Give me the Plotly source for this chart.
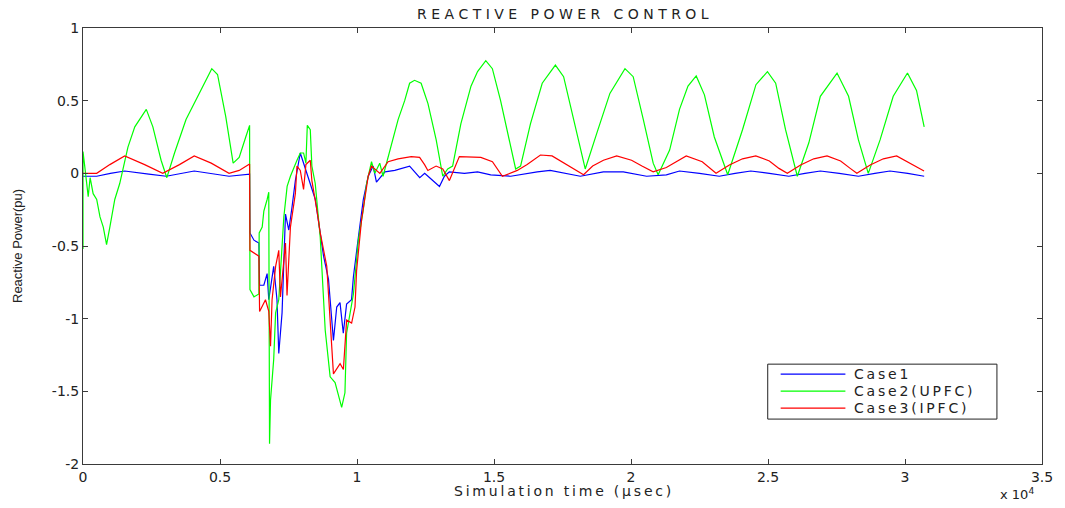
import plotly.graph_objects as go

# ---- data (time in microseconds, reactive power in pu) ----
case1_t = [0, 500, 1000, 1520, 2400, 3040, 4060, 5330, 6080, 6093, 6240, 6420, 6445, 6600, 6720, 6780,
           6960, 7080, 7145, 7265, 7390, 7510, 7630, 7750, 7930, 8050, 8230, 8350, 8480, 8780, 8960,
           9020, 9140, 9260, 9380, 9500, 9620, 9800, 9870, 10050, 10230, 10410, 10590, 10710, 11020,
           11380, 11920, 12290, 12470, 12590, 13010, 13190, 13370, 13920, 14400, 14880, 15610, 16580,
           17050, 18150, 18990, 19720, 20570, 21290, 21770, 22500, 23220, 23800, 24370, 25050, 25760,
           26350, 26910, 27600, 28300, 28900, 29450, 30100, 30700]
case1_y = [-0.02, -0.02, 0.0, 0.016, -0.005, -0.02, 0.016, -0.02, -0.005, -0.41, -0.46, -0.48, -0.77, -0.77,
           -0.69, -0.87, -0.64, -0.87, -1.24, -0.96, -0.28, -0.39, -0.23, -0.05, 0.14, 0.07, -0.05, -0.11,
           -0.18, -0.57, -0.73, -0.87, -1.15, -0.92, -0.89, -1.10, -0.90, -0.87, -0.71, -0.44, -0.18, -0.02,
           0.05, -0.06, 0.01, 0.02, 0.05, -0.03, 0.0, -0.02, -0.09, -0.02, 0.01, 0.0, 0.01, -0.01, -0.02,
           0.01, 0.02, -0.02, 0.01, 0.01, -0.02, -0.01, 0.016, 0.0, -0.02, 0.0, 0.016, 0.0, -0.02, 0.0,
           0.016, 0.0, -0.02, 0.0, 0.016, 0.0, -0.02]

case2_t = [0, 0, 50, 110, 190, 260, 370, 500, 620, 740, 860, 980, 1160, 1340, 1640, 1890, 2190, 2310, 2550,
           2850, 3060, 3340, 3760, 4180, 4490, 4700, 4910, 5210, 5480, 5700, 5940, 6080, 6093, 6240, 6420,
           6430, 6540, 6600, 6720, 6780, 6808, 6844, 6960, 7030, 7145, 7330, 7450, 7570, 7810, 7930, 8050,
           8135, 8186, 8295, 8353, 8476, 8658, 8715, 8840, 9020, 9200, 9440, 9560, 9620, 9870, 10050, 10230,
           10350, 10530, 10650, 10830, 10950, 11200, 11500, 11740, 11920, 12100, 12340, 12590, 12890, 13130,
           13310, 13490, 13790, 14160, 14400, 14700, 14940, 15240, 15550, 15790, 15970, 16330, 16760, 17240,
           17540, 17850, 18150, 18330, 18750, 19230, 19780, 20080, 20450, 20810, 20990, 21410, 21770, 22080,
           22380, 22680, 23040, 23530, 24070, 24560, 24980, 25280, 25640, 26070, 26490, 26910, 27520, 27940,
           28300, 28660, 29090, 29570, 30090, 30420, 30700]
case2_y = [-0.52, 0.15, 0.07, -0.02, -0.16, -0.03, -0.14, -0.18, -0.30, -0.37, -0.49, -0.37, -0.18, -0.07,
           0.18, 0.32, 0.41, 0.44, 0.32, 0.09, -0.03, 0.14, 0.37, 0.53, 0.64, 0.72, 0.68, 0.39, 0.07, 0.11,
           0.25, 0.33, -0.80, -0.85, -0.83, -0.41, -0.37, -0.26, -0.18, -0.13, -1.86, -1.56, -1.28, -0.96,
           -0.87, -0.30, -0.09, -0.02, 0.09, 0.14, 0.14, 0.07, 0.33, 0.30, 0.05, -0.07, -0.44, -0.64, -1.08,
           -1.40, -1.44, -1.61, -1.51, -1.10, -0.83, -0.46, -0.25, -0.07, 0.08, 0.0, 0.07, -0.02, 0.16, 0.37,
           0.50, 0.62, 0.64, 0.62, 0.48, 0.23, -0.02, 0.03, 0.05, 0.34, 0.60, 0.70, 0.775, 0.72, 0.50, 0.23,
           0.03, 0.05, 0.34, 0.62, 0.745, 0.665, 0.41, 0.16, 0.03, 0.275, 0.55, 0.72, 0.665, 0.37, 0.07, -0.01,
           0.16, 0.44, 0.60, 0.67, 0.54, 0.25, -0.01, 0.30, 0.61, 0.70, 0.62, 0.30, -0.02, 0.21, 0.53, 0.69,
           0.53, 0.23, 0.0, 0.23, 0.53, 0.69, 0.57, 0.32]

case3_t = [0, 500, 980, 1520, 2250, 2910, 3520, 4060, 4680, 5330, 5700, 6080, 6093, 6420, 6445, 6660, 6780,
           6844, 6900, 7030, 7145, 7207, 7390, 7446, 7570, 7750, 7810, 7930, 8050, 8135, 8295, 8353, 8534,
           8658, 8897, 8959, 9078, 9140, 9383, 9503, 9622, 9804, 9927, 9985, 10166, 10290, 10409, 10529,
           10834, 11135, 11498, 11980, 12285, 12466, 12586, 12887, 13130, 13372, 13735, 14519, 14943, 15306,
           15850, 16210, 16695, 17119, 17906, 18269, 18600, 18994, 19477, 20020, 20400, 20808, 21290, 22016,
           22600, 23104, 23590, 24070, 24555, 25050, 25400, 25705, 26190, 26670, 27155, 27650, 28000, 28243,
           28730, 29210, 29694, 30200, 30695]
case3_y = [0.0, 0.0, 0.06, 0.12, 0.06, 0.0, 0.06, 0.12, 0.07, 0.0, 0.02, 0.064, -0.53, -0.57, -0.95, -0.87,
           -0.95, -1.19, -0.87, -0.64, -0.53, -0.85, -0.48, -0.84, -0.37, -0.14, 0.05, 0.02, -0.11, 0.06,
           0.09, -0.05, -0.25, -0.41, -0.64, -0.83, -1.22, -1.38, -1.31, -1.35, -1.01, -1.03, -0.92, -0.67,
           -0.32, -0.16, -0.02, 0.05, 0.0, 0.08, 0.10, 0.115, 0.11, 0.06, 0.02, 0.05, 0.03, -0.05, 0.115,
           0.11, 0.08, -0.02, 0.02, 0.06, 0.126, 0.12, 0.03, -0.01, 0.05, 0.09, 0.12, 0.09, 0.05, 0.01, 0.04,
           0.12, 0.08, 0.0, 0.057, 0.10, 0.12, 0.085, 0.034, 0.0, 0.057, 0.10, 0.12, 0.085, 0.034, 0.0, 0.057,
           0.10, 0.12, 0.07, 0.016]

series_names = ["Case1", "Case2(UPFC)", "Case3(IPFC)"]
series_colors = ["#0000ff", "#00ff00", "#ff0000"]

x_tickvals = [0, 5000, 10000, 15000, 20000, 25000, 30000, 35000]
x_ticktext = ["0", "0.5", "1", "1.5", "2", "2.5", "3", "3.5"]
y_tickvals = [-2, -1.5, -1, -0.5, 0, 0.5, 1]
y_ticktext = ["-2", "-1.5", "-1", "-0.5", "0", "0.5", "1"]

title_text = "REACTIVE POWER CONTROL"
xlabel_text = "Simulation time (µsec)"
ylabel_text = "Reactive Power(pu)"

FONT = "DejaVu Sans"
AX = "#3a3a3a"
TXT = "#222222"


def spaced(s, sep):
    return sep.join(list(s))


fig = go.Figure()
for t, y, name, col in zip([case1_t, case2_t, case3_t], [case1_y, case2_y, case3_y],
                           series_names, series_colors):
    fig.add_trace(go.Scatter(x=t, y=y, mode="lines", name=name, showlegend=False,
                             line=dict(color=col, width=1.2)))

axis_common = dict(showgrid=False, zeroline=False, showline=True, linecolor=AX, linewidth=1,
                   mirror="ticks", ticks="inside", ticklen=5, tickcolor=AX,
                   tickfont=dict(family=FONT, size=14, color=TXT))
fig.update_xaxes(range=[0, 35000], tickvals=x_tickvals, ticktext=x_ticktext, **axis_common)
fig.update_yaxes(range=[-2, 1], tickvals=y_tickvals, ticktext=y_ticktext, **axis_common)

# manual MATLAB-style legend box (paper coordinates)
leg_x0, leg_x1, leg_y0, leg_y1 = 0.714, 0.953, 0.103, 0.229
row_y = [0.206, 0.167, 0.128]
shapes = [dict(type="rect", xref="paper", yref="paper", x0=leg_x0, x1=leg_x1, y0=leg_y0, y1=leg_y1,
               line=dict(color="#222222", width=1), fillcolor="white", layer="above")]
annotations = []
for name, col, ry in zip(series_names, series_colors, row_y):
    shapes.append(dict(type="line", xref="paper", yref="paper", x0=0.7275, x1=0.795, y0=ry, y1=ry,
                       line=dict(color=col, width=1.2), layer="above"))
    annotations.append(dict(text=spaced(name, "\u2009"), x=0.802, y=ry, xref="paper", yref="paper",
                            xanchor="left", yanchor="middle", showarrow=False,
                            font=dict(family=FONT, size=14, color=TXT)))

annotations += [
    dict(text=spaced(title_text, "\u00a0"), x=0.5, y=1, xref="paper", yref="paper",
         xanchor="center", yanchor="middle", yshift=14, showarrow=False,
         font=dict(family=FONT, size=14, color=TXT)),
    dict(text=spaced(xlabel_text, "\u2009"), x=0.5, y=0, xref="paper", yref="paper",
         xanchor="center", yanchor="middle", yshift=-27, showarrow=False,
         font=dict(family=FONT, size=14, color=TXT)),
    dict(text="x 10<sup>4</sup>", x=1.0, y=0, xref="paper", yref="paper",
         xanchor="right", yanchor="middle", yshift=-30, xshift=-6, showarrow=False,
         font=dict(family=FONT, size=13, color=TXT)),
    dict(text=ylabel_text, x=0, y=0.5, xref="paper", yref="paper", textangle=-90,
         xanchor="center", yanchor="middle", xshift=-66, showarrow=False,
         font=dict(family="Liberation Sans Narrow, Liberation Sans", size=13, color=TXT)),
]

fig.update_layout(
    width=1057, height=500,
    margin=dict(l=75, r=17, t=20, b=44),
    paper_bgcolor="white", plot_bgcolor="white",
    font=dict(family=FONT, color=TXT),
    showlegend=False,
    shapes=shapes,
    annotations=annotations,
)

fig.write_html("out.html")
